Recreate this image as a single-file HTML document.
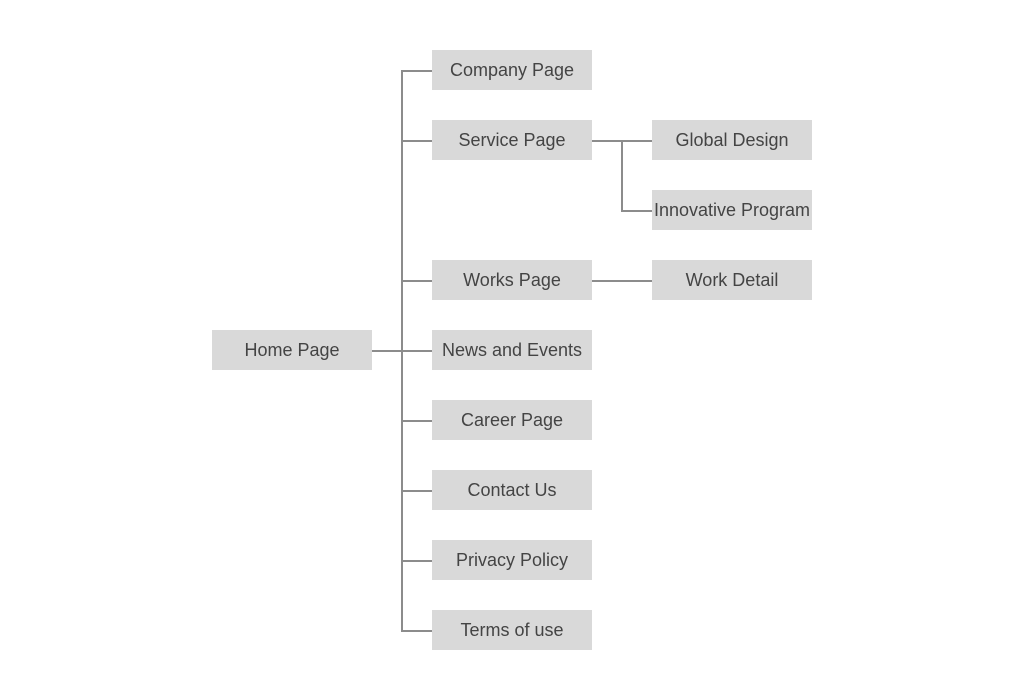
<!DOCTYPE html>
<html><head><meta charset="utf-8"><style>
body{margin:0;width:1024px;height:700px;background:#fff;position:relative;overflow:hidden;font-family:"Liberation Sans",sans-serif}
.b{position:absolute;width:160px;height:40px;background:#d9d9d9;color:#444;font-size:18px;line-height:40px;text-align:center;white-space:nowrap}
.h,.v{position:absolute;background:#8c8c8c}
.h{height:2px}.v{width:2px}
</style></head><body>
<div class="v" style="left:401px;top:70px;height:561px"></div>
<div class="h" style="left:372px;top:350px;width:60px"></div>
<div class="h" style="left:401px;top:70px;width:31px"></div>
<div class="h" style="left:401px;top:140px;width:31px"></div>
<div class="h" style="left:401px;top:280px;width:31px"></div>
<div class="h" style="left:401px;top:420px;width:31px"></div>
<div class="h" style="left:401px;top:490px;width:31px"></div>
<div class="h" style="left:401px;top:560px;width:31px"></div>
<div class="h" style="left:401px;top:630px;width:31px"></div>
<div class="h" style="left:592px;top:140px;width:60px"></div>
<div class="v" style="left:621px;top:140px;height:72px"></div>
<div class="h" style="left:621px;top:210px;width:31px"></div>
<div class="h" style="left:592px;top:280px;width:60px"></div>
<div class="b" style="left:212px;top:330px">Home Page</div>
<div class="b" style="left:432px;top:50px">Company Page</div>
<div class="b" style="left:432px;top:120px">Service Page</div>
<div class="b" style="left:432px;top:260px">Works Page</div>
<div class="b" style="left:432px;top:330px">News and Events</div>
<div class="b" style="left:432px;top:400px">Career Page</div>
<div class="b" style="left:432px;top:470px">Contact Us</div>
<div class="b" style="left:432px;top:540px">Privacy Policy</div>
<div class="b" style="left:432px;top:610px">Terms of use</div>
<div class="b" style="left:652px;top:120px">Global Design</div>
<div class="b" style="left:652px;top:190px">Innovative Program</div>
<div class="b" style="left:652px;top:260px">Work Detail</div>
</body></html>
